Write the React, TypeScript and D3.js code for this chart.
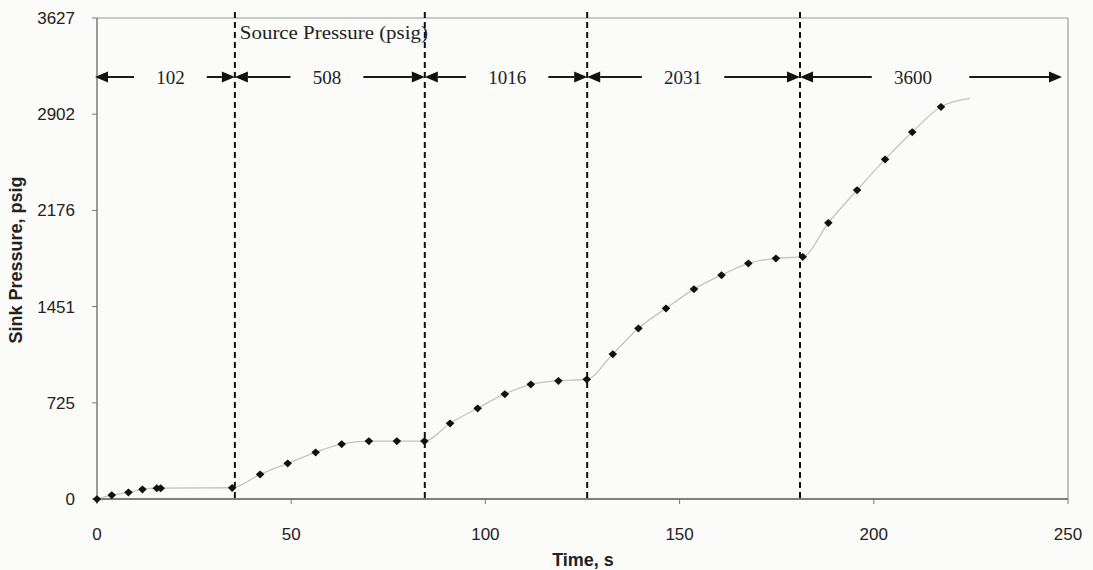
import React from "react";
import * as d3 from "d3";

// Sink pressure measured over time (s, psig)
const time = [0, 3.8, 8.1, 11.7, 15.4, 16.4, 34.8, 42, 49.1, 56.3, 63, 70, 77.2, 84.3, 90.9, 98, 105, 111.7, 118.8, 126.1, 132.8, 139.4, 146.5, 153.7, 160.8, 167.7, 174.8, 181.7, 188.3, 195.7, 202.9, 209.9, 217.3, 224.8];
const sinkPressure = [0, 30, 50, 73, 82, 82, 85, 186, 269, 352, 415, 437, 437, 437, 571, 684, 792, 865, 892, 903, 1093, 1287, 1438, 1583, 1689, 1777, 1815, 1827, 2083, 2330, 2561, 2767, 2958, 3021];
// the final reading closes the curve without a marker
const markedCount = time.length - 1;

// Source pressure steps
const stepTimes = [35.5, 84.4, 126.2, 181];
const sourceLabels = ["102", "508", "1016", "2031", "3600"];
const labelTimes = [18.9, 59.2, 105.6, 150.9, 210.1];

const yTicks = [0, 725, 1451, 2176, 2902, 3627];
const xTicks = [0, 50, 100, 150, 200, 250];

const W = 1093;
const H = 570;
const M = { left: 97, right: 1068, top: 18, bottom: 499 };

const sans = "'Liberation Sans', Arial, sans-serif";
const serif = "'Liberation Serif', 'Times New Roman', serif";

// squat diamond marker
const markerPath = "M0,-3.8 L4.3,0 L0,4.2 L-4.3,0 Z";

export default function App() {
  const x = d3.scaleLinear().domain([0, 250]).range([M.left, M.right]);
  const y = d3.scaleLinear().domain([0, 3627]).range([M.bottom, M.top]);

  const pts = time.map((t, i) => [t, sinkPressure[i]] as [number, number]);
  const line = d3
    .line<[number, number]>()
    .x((d) => x(d[0]))
    .y((d) => y(d[1]))
    .curve(d3.curveMonotoneX);

  const arrowY = 77;
  const segEdges = [0, ...stepTimes, 250];
  const gap = 22;
  const headLen = 13;
  const headHalf = 5.5;

  const arrow = (from: number, to: number, key: string) => {
    const dir = to > from ? 1 : -1;
    const base = to - dir * headLen;
    return (
      <g key={key}>
        <line x1={from} x2={base} y1={arrowY} y2={arrowY} stroke="#1a1a1a" strokeWidth={2} />
        <path
          d={`M${to},${arrowY} L${base},${arrowY - headHalf} L${base},${arrowY + headHalf} Z`}
          fill="#111"
        />
      </g>
    );
  };

  return (
    <svg
      width={W}
      height={H}
      style={{ position: "absolute", left: 0, top: 0, background: "#fbfbf9" }}
    >
      {/* plot frame */}
      <line x1={M.left} x2={M.right} y1={M.top} y2={M.top} stroke="#9a9a96" strokeWidth={1.2} />
      <line x1={M.right} x2={M.right} y1={M.top} y2={M.bottom} stroke="#9a9a96" strokeWidth={1.2} />
      <line x1={M.left} x2={M.left} y1={M.top} y2={M.bottom} stroke="#666" strokeWidth={1.3} />
      <line x1={M.left} x2={M.right} y1={M.bottom} y2={M.bottom} stroke="#555" strokeWidth={1.5} />

      {/* y axis */}
      {yTicks.map((v) => (
        <g key={`y${v}`}>
          <line x1={M.left - 5} x2={M.left} y1={y(v)} y2={y(v)} stroke="#777" />
          <text
            x={75}
            y={y(v)}
            dy="0.35em"
            textAnchor="end"
            fontFamily={sans}
            fontSize={17}
            fill="#222"
          >
            {v}
          </text>
        </g>
      ))}
      {/* x axis */}
      {xTicks.map((v) => (
        <g key={`x${v}`}>
          <line x1={x(v)} x2={x(v)} y1={M.bottom} y2={M.bottom + 5} stroke="#777" />
          <text
            x={x(v)}
            y={540}
            textAnchor="middle"
            fontFamily={sans}
            fontSize={17}
            fill="#222"
          >
            {v}
          </text>
        </g>
      ))}
      <text
        x={583}
        y={566}
        textAnchor="middle"
        fontFamily={sans}
        fontWeight="bold"
        fontSize={18}
        fill="#222"
      >
        Time, s
      </text>
      <text
        transform={`translate(22,260) rotate(-90)`}
        textAnchor="middle"
        fontFamily={sans}
        fontWeight="bold"
        fontSize={18}
        fill="#222"
      >
        Sink Pressure, psig
      </text>

      {/* source pressure step boundaries */}
      {stepTimes.map((t) => (
        <line
          key={`s${t}`}
          x1={x(t)}
          x2={x(t)}
          y1={12}
          y2={M.bottom}
          stroke="#111"
          strokeWidth={2}
          strokeDasharray="6,4"
        />
      ))}

      {/* data curve */}
      <path d={line(pts) ?? ""} fill="none" stroke="#c4c4bd" strokeWidth={1.3} />
      {pts.slice(0, markedCount).map((d, i) => (
        <path
          key={`p${i}`}
          d={markerPath}
          transform={`translate(${x(d[0])},${y(d[1])})`}
          fill="#111"
        />
      ))}

      {/* source pressure annotations */}
      <text
        x={x(stepTimes[0]) + 5}
        y={39}
        fontFamily={serif}
        fontSize={19}
        fill="#222"
        textLength={188}
        lengthAdjust="spacingAndGlyphs"
      >
        Source Pressure (psig)
      </text>
      {sourceLabels.map((lab, i) => {
        const lx = x(labelTimes[i]);
        const half = lab.length * 4.8;
        const left = x(segEdges[i]) + (i === 0 ? -2 : 0);
        const right = x(segEdges[i + 1]) + (i === sourceLabels.length - 1 ? -6 : 0);
        const rightGap = i === sourceLabels.length - 1 ? 37 : gap;
        return (
          <g key={`l${lab}`}>
            {arrow(lx - half - gap, left, `la${i}`)}
            <text
              x={lx}
              y={arrowY}
              dy="0.35em"
              textAnchor="middle"
              fontFamily={serif}
              fontSize={19}
              fill="#222"
            >
              {lab}
            </text>
            {arrow(lx + half + rightGap, right, `ra${i}`)}
          </g>
        );
      })}
    </svg>
  );
}
